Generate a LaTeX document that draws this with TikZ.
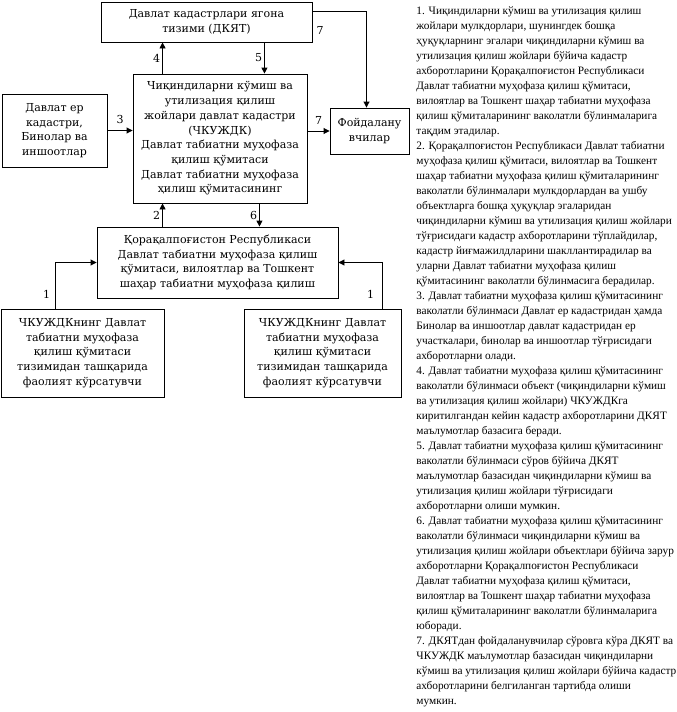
\documentclass[tikz,border=0pt]{standalone}
\usepackage{fontspec}
\setmainfont{DejaVu Serif}
\newfontfamily\notefont{Liberation Serif}
\usepackage{tikz}
\usetikzlibrary{arrows.meta, calc}

\begin{document}
\begin{tikzpicture}[x=1pt, y=-1pt, line width=0.9pt,
  every node/.style={font=\fontsize{11}{14.7}\selectfont},
  box/.style={draw, align=center, inner sep=0pt},
  arr/.style={-{Triangle[length=6pt, width=6pt]}},
  lbl/.style={inner sep=2pt}]
\useasboundingbox (0,0) rectangle (677,712);
% boxes
\node[box, minimum width=211, minimum height=40] (dkyat) at (206.5,22) {Давлат кадастрлари ягона\\тизими (ДКЯТ)};
\node[box, minimum width=174, minimum height=129] (chk) at (220,138.5) {Чиқиндиларни кўмиш ва\\утилизация қилиш\\жойлари давлат кадастри\\(ЧКУЖДК)\\Давлат табиатни муҳофаза\\қилиш қўмитаси\\Давлат табиатни муҳофаза\\ҳилиш қўмитасининг};
\node[box, minimum width=105, minimum height=73] (erkad) at (54.5,130.5) {Давлат ер\\кадастри,\\Бинолар ва\\иншоотлар};
\node[box, minimum width=79, minimum height=46] (users) at (369.5,131) {Фойдалану\\вчилар};
\node[box, minimum width=241, minimum height=71] (region) at (217.5,262.5) {Қорақалпоғистон Республикаси\\Давлат табиатни муҳофаза қилиш\\қўмитаси, вилоятлар ва Тошкент\\шаҳар табиатни муҳофаза қилиш};
\node[box, minimum width=163, minimum height=88] (outL) at (82.5,353) {ЧКУЖДКнинг Давлат\\табиатни муҳофаза\\қилиш қўмитаси\\тизимидан ташқарида\\фаолият кўрсатувчи};
\node[box, minimum width=157, minimum height=88] (outR) at (322.5,353) {ЧКУЖДКнинг Давлат\\табиатни муҳофаза\\қилиш қўмитаси\\тизимидан ташқарида\\фаолият кўрсатувчи};
% numbered flows
\draw[arr] ([xshift=30]chk.north west) -- ([xshift=30]chk.north west |- dkyat.south) node[lbl, midway, left] {4};
\draw[arr] ([xshift=-48]dkyat.south east) -- ([xshift=-48]dkyat.south east |- chk.north) node[lbl, midway, left] {5};
\draw[arr] ([yshift=-10]dkyat.north east) -| ([xshift=-3]users.north) node[lbl, pos=0.07, below=12pt] {7};
\draw[arr] (erkad.east) -- (erkad.east -| chk.west) node[lbl, midway, above=4pt] {3};
\draw[arr] (chk.east |- users.west) -- (users.west) node[lbl, midway, above=4pt] {7};
\draw[arr] ([xshift=30]chk.south west |- region.north) -- ([xshift=30]chk.south west) node[lbl, midway, left] {2};
\draw[arr] ([xshift=-48]chk.south east) -- ([xshift=-48]chk.south east |- region.north) node[lbl, midway, left] {6};
\draw[arr] ([xshift=-27]outL.north) |- (region.west) node[lbl, pos=0.15, left=3pt] {1};
\draw[arr] ([xshift=60]outR.north) |- (region.east) node[lbl, pos=0.15, left=6pt] {1};
% notes on the right
\node[anchor=north west, align=left, inner sep=0pt, font=\notefont\fontsize{11.3}{15}\selectfont] (notes) at (416,6) {%
1. Чиқиндиларни кўмиш ва утилизация қилиш\\
жойлари мулкдорлари, шунингдек бошқа\\
ҳуқуқларнинг эгалари чиқиндиларни кўмиш ва\\
утилизация қилиш жойлари бўйича кадастр\\
ахборотларини Қорақалпоғистон Республикаси\\
Давлат табиатни муҳофаза қилиш қўмитаси,\\
вилоятлар ва Тошкент шаҳар табиатни муҳофаза\\
қилиш қўмиталарининг ваколатли бўлинмаларига\\
тақдим этадилар.\\
2. Қорақалпоғистон Республикаси Давлат табиатни\\
муҳофаза қилиш қўмитаси, вилоятлар ва Тошкент\\
шаҳар табиатни муҳофаза қилиш қўмиталарининг\\
ваколатли бўлинмалари мулкдорлардан ва ушбу\\
объектларга бошқа ҳуқуқлар эгаларидан\\
чиқиндиларни кўмиш ва утилизация қилиш жойлари\\
тўғрисидаги кадастр ахборотларини тўплайдилар,\\
кадастр йиғмажилдларини шакллантирадилар ва\\
уларни Давлат табиатни муҳофаза қилиш\\
қўмитасининг ваколатли бўлинмасига берадилар.\\
3. Давлат табиатни муҳофаза қилиш қўмитасининг\\
ваколатли бўлинмаси Давлат ер кадастридан ҳамда\\
Бинолар ва иншоотлар давлат кадастридан ер\\
участкалари, бинолар ва иншоотлар тўғрисидаги\\
ахборотларни олади.\\
4. Давлат табиатни муҳофаза қилиш қўмитасининг\\
ваколатли бўлинмаси объект (чиқиндиларни кўмиш\\
ва утилизация қилиш жойлари) ЧКУЖДКга\\
киритилгандан кейин кадастр ахборотларини ДКЯТ\\
маълумотлар базасига беради.\\
5. Давлат табиатни муҳофаза қилиш қўмитасининг\\
ваколатли бўлинмаси сўров бўйича ДКЯТ\\
маълумотлар базасидан чиқиндиларни кўмиш ва\\
утилизация қилиш жойлари тўғрисидаги\\
ахборотларни олиши мумкин.\\
6. Давлат табиатни муҳофаза қилиш қўмитасининг\\
ваколатли бўлинмаси чиқиндиларни кўмиш ва\\
утилизация қилиш жойлари объектлари бўйича зарур\\
ахборотларни Қорақалпоғистон Республикаси\\
Давлат табиатни муҳофаза қилиш қўмитаси,\\
вилоятлар ва Тошкент шаҳар табиатни муҳофаза\\
қилиш қўмиталарининг ваколатли бўлинмаларига\\
юборади.\\
7. ДКЯТдан фойдаланувчилар сўровга кўра ДКЯТ ва\\
ЧКУЖДК маълумотлар базасидан чиқиндиларни\\
кўмиш ва утилизация қилиш жойлари бўйича кадастр\\
ахборотларини белгиланган тартибда олиши\\
мумкин.};
\end{tikzpicture}
\end{document}
